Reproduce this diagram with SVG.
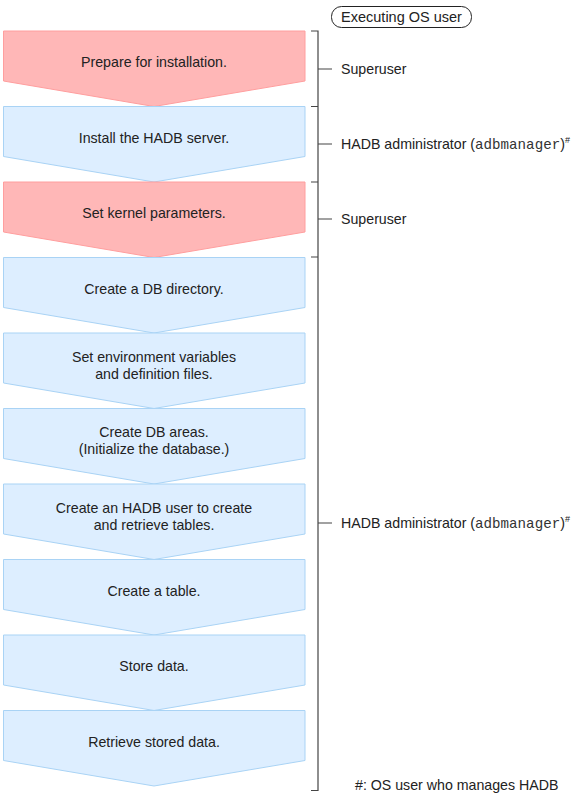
<svg xmlns="http://www.w3.org/2000/svg" width="573" height="796" viewBox="0 0 573 796">
<defs>
<style>
text{font-family:"Liberation Sans",Arial,sans-serif;font-size:14.2px;fill:#222}
.c{text-anchor:middle}
.red{fill:#FFB7B7;stroke:#FF9E9E;stroke-width:1}
.blue{fill:#DDEEFF;stroke:#A9D3F5;stroke-width:1}
.br{stroke:#444;stroke-width:1.2;fill:none}
.mono{font-family:"Liberation Mono","Courier New",monospace;fill:#333}
.sup{font-size:9px}
</style>
</defs>
<rect width="573" height="796" fill="#fff"/>
<g id="header">
<rect x="331.5" y="6.5" width="140" height="21" rx="10" fill="#fff" stroke="#222"/>
<text x="401.5" y="22" class="c" style="font-size:14.5px">Executing OS user</text>
</g>
<g id="s1"><polygon class="red" points="3.5,31 305,31 305,81 154,106.5 3.5,81"/><text x="154" y="67" class="c">Prepare for installation.</text></g>
<g id="s2"><polygon class="blue" points="3.5,106.5 305,106.5 305,156.5 154,182 3.5,156.5"/><text x="154" y="142.5" class="c">Install the HADB server.</text></g>
<g id="s3"><polygon class="red" points="3.5,182 305,182 305,232 154,257.5 3.5,232"/><text x="154" y="218" class="c">Set kernel parameters.</text></g>
<g id="s4"><polygon class="blue" points="3.5,257.5 305,257.5 305,307.5 154,333 3.5,307.5"/><text x="154" y="293.5" class="c">Create a DB directory.</text></g>
<g id="s5"><polygon class="blue" points="3.5,333 305,333 305,383 154,408.5 3.5,383"/><text x="154" y="361.5" class="c">Set environment variables</text><text x="154" y="378.5" class="c">and definition files.</text></g>
<g id="s6"><polygon class="blue" points="3.5,408.5 305,408.5 305,458.5 154,484 3.5,458.5"/><text x="154" y="437" class="c">Create DB areas.</text><text x="154" y="454" class="c">(Initialize the database.)</text></g>
<g id="s7"><polygon class="blue" points="3.5,484 305,484 305,534 154,559.5 3.5,534"/><text x="154" y="512.5" class="c">Create an HADB user to create</text><text x="154" y="529.5" class="c">and retrieve tables.</text></g>
<g id="s8"><polygon class="blue" points="3.5,559.5 305,559.5 305,609.5 154,635 3.5,609.5"/><text x="154" y="595.5" class="c">Create a table.</text></g>
<g id="s9"><polygon class="blue" points="3.5,635 305,635 305,685 154,710.5 3.5,685"/><text x="154" y="671" class="c">Store data.</text></g>
<g id="s10"><polygon class="blue" points="3.5,710.5 305,710.5 305,760.5 154,786 3.5,760.5"/><text x="154" y="746.5" class="c">Retrieve stored data.</text></g>
<g id="connectors">
<path class="br" d="M311,31H318V790.5H311M311,106.5H318M311,182H318M311,257H318M318,69H332M318,144H332M318,219H332M318,523H332"/>
</g>
<g id="labels">
<text x="341" y="74">Superuser</text>
<text x="341" y="149">HADB administrator (<tspan class="mono">adbmanager</tspan>)<tspan class="sup" dy="-6">#</tspan></text>
<text x="341" y="224">Superuser</text>
<text x="341" y="528">HADB administrator (<tspan class="mono">adbmanager</tspan>)<tspan class="sup" dy="-6">#</tspan></text>
<text x="355" y="790">#: OS user who manages HADB</text>
</g>
</svg>
